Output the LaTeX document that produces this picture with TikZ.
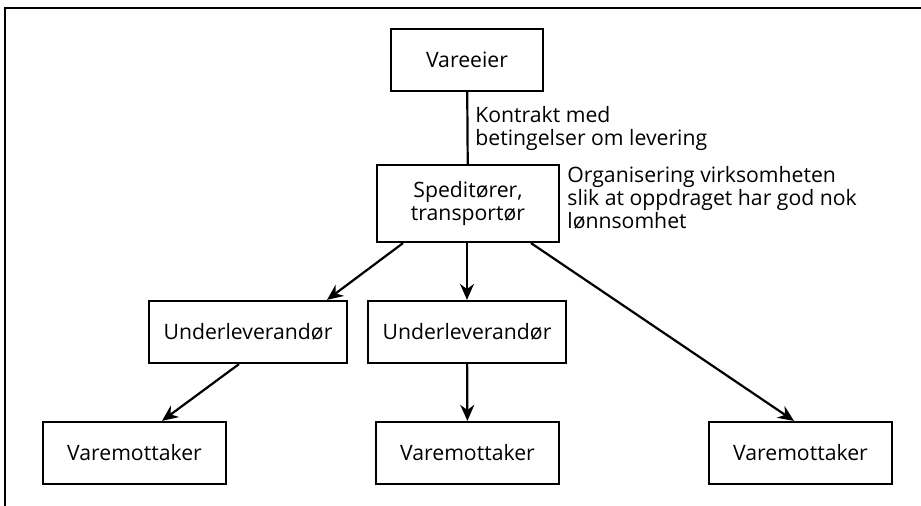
\documentclass[tikz,border=0pt]{standalone}
\usepackage{fontspec}
\setmainfont{Open Sans}
\usetikzlibrary{arrows.meta}

\begin{document}
\begin{tikzpicture}[x=0.5pt, y=-0.5pt,
    font=\fontsize{10.6}{11.4}\selectfont,
    box/.style={draw, line width=1.1pt, align=center, inner sep=0pt},
    note/.style={anchor=north west, align=left, inner sep=0pt},
    link/.style={line width=1.1pt, -{Stealth[length=8pt, width=7pt]}}]
    \useasboundingbox (0,0) rectangle (921,506);

    % Frame (cut off at the page edge)
    \draw[line width=1.4pt] (5,506) -- (5,8) -- (921,8);

    % Boxes
    \node[box, minimum width=76pt, minimum height=31pt] (owner) at (467,60) {Vareeier};
    \node[box, minimum width=91pt, minimum height=38.5pt] (forwarder) at (468,203.5) {Speditører,\\transportør};
    \node[box, minimum width=99pt, minimum height=31pt] (sub1) at (248,332) {Underleverandør};
    \node[box, minimum width=99pt, minimum height=31pt] (sub2) at (467,332) {Underleverandør};
    \node[box, minimum width=91.5pt, minimum height=31pt] (recv1) at (134.5,453) {Varemottaker};
    \node[box, minimum width=91.5pt, minimum height=31pt] (recv2) at (467.5,453) {Varemottaker};
    \node[box, minimum width=91.5pt, minimum height=31pt] (recv3) at (800.5,453) {Varemottaker};

    % Labels
    \node[note] (contract) at (475,106) {Kontrakt med\\betingelser om levering};
    \node[note] (organise) at (567,166) {Organisering virksomheten\\slik at oppdraget har god nok\\lønnsomhet};

    % Connectors
    \draw[line width=1.1pt] (owner) -- (forwarder);
    \draw[link] (forwarder.south -| 403,0) -- (sub1.north -| 327,0);
    \draw[link] (forwarder.south -| sub2) -- (sub2);
    \draw[link] (forwarder.south -| 531,0) -- (recv3.north -| 794,0);
    \draw[link] (sub1.south -| 239,0) -- (recv1.north -| 162,0);
    \draw[link] (sub2) -- (recv2);
\end{tikzpicture}
\end{document}
